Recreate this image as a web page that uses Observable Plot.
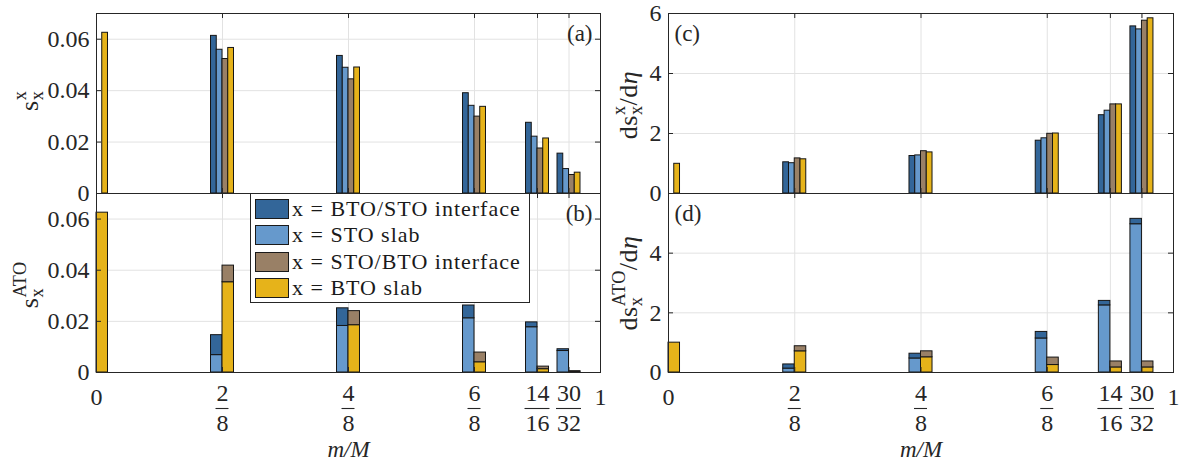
<!DOCTYPE html>
<html>
<head>
<meta charset="utf-8">
<script src="https://cdn.jsdelivr.net/npm/d3@7"></script>
<script src="https://cdn.jsdelivr.net/npm/@observablehq/plot@0.6"></script>
<style>
  html, body { margin: 0; padding: 0; background: #fff; }
  #chart { position: relative; width: 1180px; height: 462px; overflow: hidden;
           font-family: "Liberation Serif", serif; color: #262626; background: #fff; }
  #chart svg { position: absolute; left: 0; top: 0; }
  .ylab { position: absolute; transform: translate(-50%, -50%) rotate(-90deg);
          white-space: nowrap; font-size: 26px; line-height: 1; letter-spacing: 0.6px; }
  .ss { display: inline-block; vertical-align: -0.27em; font-size: 0.7em; line-height: 0.95; letter-spacing: 0.3px; }
  .ss span { display: block; }
  #legend { position: absolute; left: 250px; top: 193px; width: 280px; height: 110px;
            box-sizing: border-box; border: 1px solid #262626; background: #fff; }
  .lrow { position: absolute; left: 4px; height: 20px; display: flex; align-items: center; }
  .lsw { width: 34px; height: 20px; box-sizing: border-box; border: 1px solid #1a1a1a; margin-right: 3px; }
  .ltx { font-size: 22px; letter-spacing: 1px; white-space: nowrap; color: #1a1a1a; }
</style>
</head>
<body>
<div id="chart"></div>
<script>
// ---------------- data ----------------
const positions = [0, 2/8, 4/8, 6/8, 14/16, 30/32];          // m/M
const seriesNames = ["x = BTO/STO interface", "x = STO slab", "x = STO/BTO interface", "x = BTO slab"];
const seriesColors = ["#336699", "#6699cc", "#998066", "#e6b31a"];

// (a) s_x^x
const sxBTOSTOint = [0, 0.0613, 0.0535, 0.0390, 0.0275, 0.0155];
const sxSTOslab   = [0, 0.0559, 0.0489, 0.0341, 0.0221, 0.0095];
const sxSTOBTOint = [0, 0.0523, 0.0444, 0.0299, 0.0175, 0.0072];
const sxBTOslab   = [0.0625, 0.0566, 0.0490, 0.0337, 0.0214, 0.0081];

// (b) s_x^ATO (stacked)
const atoBTOSTOint = [0, 0.0078, 0.0069, 0.0050, 0.0019, 0.0007];
const atoSTOslab   = [0, 0.0068, 0.0182, 0.0212, 0.0177, 0.0084];
const atoSTOBTOint = [0, 0.0065, 0.0055, 0.0038, 0.0010, 0.0002];
const atoBTOslab   = [0.0625, 0.0353, 0.0185, 0.0040, 0.0013, 0.0003];

// (c) ds_x^x/deta
const dsBTOSTOint = [0, 1.04, 1.25, 1.76, 2.61, 5.57];
const dsSTOslab   = [0, 1.01, 1.27, 1.84, 2.76, 5.47];
const dsSTOBTOint = [0, 1.17, 1.41, 1.99, 2.97, 5.76];
const dsBTOslab   = [0.99, 1.14, 1.37, 2.00, 2.97, 5.84];

// (d) ds_x^ATO/deta (stacked)
const daBTOSTOint = [0, 0.14, 0.16, 0.22, 0.15, 0.18];
const daSTOslab   = [0, 0.13, 0.47, 1.14, 2.25, 4.97];
const daSTOBTOint = [0, 0.17, 0.20, 0.25, 0.20, 0.20];
const daBTOslab   = [1.00, 0.71, 0.51, 0.25, 0.17, 0.17];

// ticks
const xGridTicks = [2/8, 4/8, 6/8, 14/16, 30/32];
const xEndTicks = [0, 1];
const xEndLabels = ["0", "1"];
const fracTicks = [2/8, 4/8, 6/8, 14/16, 30/32];
const fracNumerators = ["2", "4", "6", "14", "30"];
const fracDenominators = ["8", "8", "8", "16", "32"];
const sTicks = [0, 0.02, 0.04, 0.06];
const dTicksTop = [0, 2, 4, 6];
const dTicksBottom = [0, 2, 4];

// ---------------- layout ----------------
const W = 1180, H = 462;
const cols = [{l: 96, r: 600}, {l: 668, r: 1173}];
const rows = [{t: 13, b: 193}, {t: 193, b: 372}];
const barW = 0.0114; // single bar width in m/M units
const FONT = "'Liberation Serif', serif";

function grouped(arrs) {
  const out = [];
  positions.forEach((p, i) => arrs.forEach((a, j) => {
    const v = a[i];
    if (v > 0) out.push({s: seriesNames[j], x1: p + (j - 2) * barW, x2: p + (j - 1) * barW, y1: 0, y2: v});
  }));
  return out;
}
function stacked(bsi, sto, sbi, bto) {
  const out = [];
  positions.forEach((p, i) => {
    if (sto[i] > 0) out.push({s: seriesNames[1], x1: p - 2 * barW, x2: p, y1: 0, y2: sto[i]});
    if (bsi[i] > 0) out.push({s: seriesNames[0], x1: p - 2 * barW, x2: p, y1: sto[i], y2: sto[i] + bsi[i]});
    if (bto[i] > 0) out.push({s: seriesNames[3], x1: p, x2: p + 2 * barW, y1: 0, y2: bto[i]});
    if (sbi[i] > 0) out.push({s: seriesNames[2], x1: p, x2: p + 2 * barW, y1: bto[i], y2: bto[i] + sbi[i]});
  });
  return out;
}

function panel({col, row, yMax, ticks, tickLabels, rects, tag, tagRight}) {
  const c = cols[col], r = rows[row];
  const fw = c.r - c.l, fh = r.b - r.t;
  const ink = "#262626";
  const marks = [
    Plot.ruleX(xGridTicks, {stroke: "#e2e2e2"}),
    Plot.ruleY(ticks.filter(v => v > 0 && v < yMax), {stroke: "#e2e2e2"}),
    Plot.rectY(rects, {x1: "x1", x2: "x2", y1: "y1", y2: "y2", fill: "s", stroke: "#151515", strokeWidth: 1}),
    Plot.frame({stroke: ink}),
    Plot.tickY(ticks, {y: d => d, insetRight: fw - 5, stroke: ink}),
    Plot.tickY(ticks, {y: d => d, insetLeft: fw - 5, stroke: ink}),
    Plot.tickX(xGridTicks, {x: d => d, insetBottom: fh - 5, stroke: ink}),
    Plot.tickX(xGridTicks, {x: d => d, insetTop: fh - 5, stroke: ink}),
    Plot.axisY(tickLabels, {anchor: "left", tickSize: 0, tickPadding: 7, fontSize: 24, fontFamily: FONT,
      tickFormat: d => String(d), label: null}),
    Plot.text([tag], {frameAnchor: tagRight ? "top-right" : "top-left", textAnchor: tagRight ? "end" : "start",
      lineAnchor: "bottom", dx: tagRight ? -8 : 6, dy: 27, fontSize: 23, fontFamily: FONT})
  ];
  if (row === 1) {
    marks.push(
      Plot.text(xEndTicks, {x: d => d, text: (d, i) => xEndLabels[i], frameAnchor: "bottom", lineAnchor: "bottom", dy: 32, fontSize: 24, fontFamily: FONT}),
      Plot.text(fracTicks, {x: d => d, text: (d, i) => fracNumerators[i], frameAnchor: "bottom", lineAnchor: "bottom", dy: 28, fontSize: 24, fontFamily: FONT}),
      Plot.text(fracTicks, {x: d => d, text: (d, i) => fracDenominators[i], frameAnchor: "bottom", lineAnchor: "bottom", dy: 58, fontSize: 24, fontFamily: FONT}),
      Plot.text(["m/M"], {frameAnchor: "bottom", lineAnchor: "bottom", dy: 84, fontSize: 23, fontStyle: "italic", fontFamily: FONT})
    );
  }
  const svg = Plot.plot({
    width: W, height: H,
    marginLeft: c.l, marginRight: W - c.r, marginTop: r.t, marginBottom: H - r.b,
    x: {domain: [0, 1], axis: null},
    y: {domain: [0, yMax]},
    color: {domain: seriesNames, range: seriesColors},
    style: {background: "transparent", fontFamily: FONT, fontSize: "24px", color: "#262626", overflow: "visible"},
    marks
  });
  if (row === 1) {
    // fraction bars of the m/M tick labels, placed with the plot's own x scale
    const sx = svg.scale("x");
    d3.select(svg).append("g").attr("class", "frac-bars")
      .selectAll("line").data(fracTicks).join("line")
      .attr("x1", (d, i) => sx.apply(d) - (fracNumerators[i].length > 1 ? 12.5 : 6.5))
      .attr("x2", (d, i) => sx.apply(d) + (fracNumerators[i].length > 1 ? 12.5 : 6.5))
      .attr("y1", r.b + 36.5).attr("y2", r.b + 36.5)
      .attr("stroke", "#262626").attr("stroke-width", 1.1);
  }
  return svg;
}

const chart = document.getElementById("chart");
chart.append(
  panel({col: 0, row: 0, yMax: 0.07, ticks: sTicks, tickLabels: sTicks,
         rects: grouped([sxBTOSTOint, sxSTOslab, sxSTOBTOint, sxBTOslab]), tag: "(a)", tagRight: true}),
  panel({col: 0, row: 1, yMax: 0.07, ticks: sTicks, tickLabels: sTicks,
         rects: stacked(atoBTOSTOint, atoSTOslab, atoSTOBTOint, atoBTOslab), tag: "(b)", tagRight: true}),
  panel({col: 1, row: 0, yMax: 6, ticks: dTicksTop, tickLabels: dTicksTop,
         rects: grouped([dsBTOSTOint, dsSTOslab, dsSTOBTOint, dsBTOslab]), tag: "(c)", tagRight: false}),
  panel({col: 1, row: 1, yMax: 6, ticks: dTicksBottom, tickLabels: dTicksBottom,
         rects: stacked(daBTOSTOint, daSTOslab, daSTOBTOint, daBTOslab), tag: "(d)", tagRight: false})
);

// y-axis labels
const ss = (sup, sub) => `<span class="ss"><span>${sup}</span><span>${sub}</span></span>`;
const ylabels = [
  {x: 29, y: 101, html: `s${ss("x", "x")}`},
  {x: 29, y: 285, html: `s${ss("ATO", "x")}`},
  {x: 628, y: 105, html: `ds${ss("x", "x")}/d<i>η</i>`},
  {x: 628, y: 283, html: `ds${ss("ATO", "x")}/d<i>η</i>`}
];
ylabels.forEach(l => {
  const d = document.createElement("div");
  d.className = "ylab";
  d.style.left = l.x + "px";
  d.style.top = l.y + "px";
  d.innerHTML = l.html;
  chart.append(d);
});

// legend
const legend = document.createElement("div");
legend.id = "legend";
seriesNames.forEach((name, i) => {
  const row = document.createElement("div");
  row.className = "lrow";
  row.style.top = (5 + i * 26.3) + "px";
  row.innerHTML = `<div class="lsw" style="background:${seriesColors[i]}"></div><div class="ltx">${name}</div>`;
  legend.append(row);
});
chart.append(legend);
</script>
</body>
</html>
